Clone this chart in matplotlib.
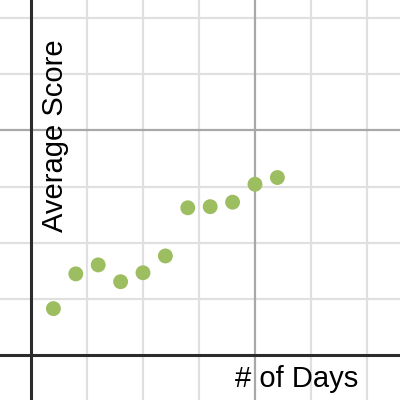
import matplotlib
matplotlib.use("Agg")
import matplotlib.pyplot as plt

# veri: gün sayısı ve ortalama skor
days = [2, 4, 6, 8, 10, 12, 14, 16, 18, 20, 22]
scores = [4.1, 7.2, 8.0, 6.5, 7.3, 8.8, 13.1, 13.2, 13.6, 15.2, 15.8]

minor_ticks = [5, 10, 15, 25, 30]
major_ticks = [20]

plt.rcParams["font.family"] = ["Liberation Sans", "DejaVu Sans"]

fig = plt.figure(figsize=(4, 4), dpi=100)
ax = fig.add_axes([0, 0, 1, 1])
ax.set_xlim(-2.77, 32.95)
ax.set_ylim(-4.06, 31.65)
ax.axis("off")

# ızgara
for t in minor_ticks:
    ax.axvline(t, color="#e0e0e0", lw=1.6, zorder=1)
    ax.axhline(t, color="#e0e0e0", lw=1.6, zorder=1)
for t in major_ticks:
    ax.axvline(t, color="#a8a8a8", lw=1.6, zorder=1)
    ax.axhline(t, color="#a8a8a8", lw=1.6, zorder=1)
# eksenler
ax.axvline(0, color="#2b2b2b", lw=2.2, zorder=2)
ax.axhline(0, color="#2b2b2b", lw=2.2, zorder=2)

ax.scatter(days, scores, s=115, color="#9dbe60", edgecolors="none", zorder=3)

ax.text(0.9, 19.5, "Average Score", rotation=90, ha="left", va="center",
        fontsize=21, color="black", zorder=4)
ax.text(18.2, -2.9, "# of Days", ha="left", va="baseline",
        fontsize=21, color="black", zorder=4)

fig.savefig("out.png", dpi=100, facecolor="white")
